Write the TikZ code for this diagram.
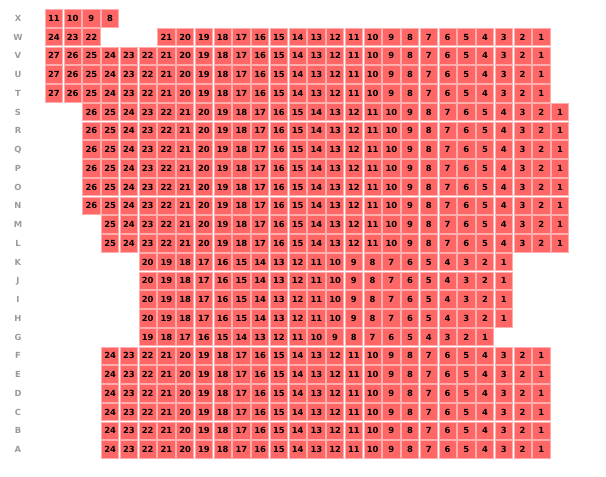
\documentclass[tikz,border=0pt]{standalone}
\usepackage{fontspec}
\newfontfamily\seatfont{DejaVu Sans}
\definecolor{seatred}{HTML}{FF6666}
\definecolor{seatedge}{HTML}{FFADAD}
\definecolor{rowgrey}{HTML}{9A9A9A}
\tikzset{
  seat/.style={fill=seatred, draw=seatedge, line width=0.6pt, minimum size=13pt,
    inner sep=0pt, font=\seatfont\bfseries\fontsize{6.3}{7}\selectfont},
  rowlabel/.style={text=rowgrey, inner sep=0pt, font=\seatfont\bfseries\fontsize{6.3}{7}\selectfont}
}
\begin{document}
\begin{tikzpicture}[x=14.0625pt, y=-14.0625pt]
  \useasboundingbox (0,0) rectangle (32.32,25.44);
  % row letters
  \foreach \lab [count=\r from 0] in {X,W,V,U,T,S,R,Q,P,O,N,M,L,K,J,I,H,G,F,E,D,C,B,A}
    \node[rowlabel] (row\lab) at (0.96,{0.976+\r}) {\lab};
  % seats: row / letter / first column / first seat / last seat
  \foreach \r/\lab/\c/\hi/\lo in {0/X/0/11/8, 1/W/0/24/22, 1/W/6/21/1,
      2/V/0/27/1, 3/U/0/27/1, 4/T/0/27/1,
      5/S/2/26/1, 6/R/2/26/1, 7/Q/2/26/1, 8/P/2/26/1, 9/O/2/26/1, 10/N/2/26/1,
      11/M/3/25/1, 12/L/3/25/1,
      13/K/5/20/1, 14/J/5/20/1, 15/I/5/20/1, 16/H/5/20/1, 17/G/5/19/1,
      18/F/3/24/1, 19/E/3/24/1, 20/D/3/24/1, 21/C/3/24/1, 22/B/3/24/1, 23/A/3/24/1}
    \foreach \s in {\hi,...,\lo}
      \node[seat] (seat\lab\s) at ({2.875+\c+\hi-\s},{0.976+\r}) {\s};
\end{tikzpicture}
\end{document}
